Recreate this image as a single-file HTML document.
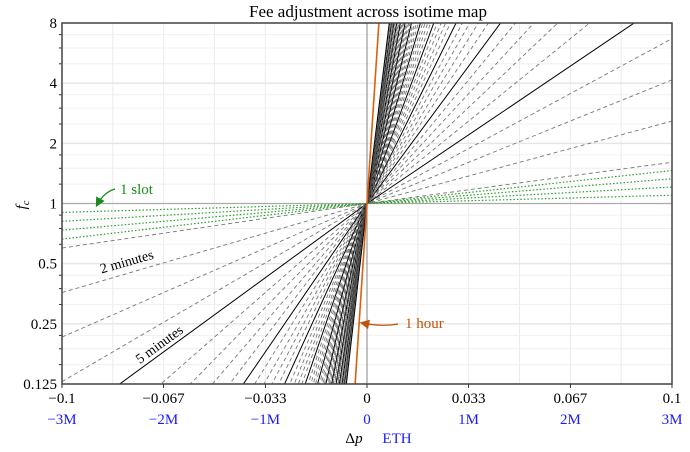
<!DOCTYPE html>
<html><head><meta charset="utf-8"><style>
html,body{margin:0;padding:0;background:#fff;width:690px;height:452px;overflow:hidden;}
svg{display:block;font-family:"Liberation Serif",serif;}
</style></head><body>
<svg id="chart" width="690" height="452" viewBox="0 0 690 452">
<defs><clipPath id="plotclip"><rect x="62" y="23" width="610" height="361"/></clipPath>
<marker id="ag" markerWidth="8" markerHeight="8" refX="6" refY="4" orient="auto"><path d="M0,0 L8,4 L0,8 z" fill="#1a8a1a"/></marker>
<marker id="ao" markerWidth="8" markerHeight="8" refX="6" refY="4" orient="auto"><path d="M0,0 L8,4 L0,8 z" fill="#c0520a"/></marker>
</defs>
<g id="grid"></g>
<g id="lines" clip-path="url(#plotclip)"></g>
<g id="axes"></g>
<text x="368" y="17" text-anchor="middle" font-size="17">Fee adjustment across isotime map</text>
<text x="26" y="205" font-size="15" font-style="italic" text-anchor="middle" transform="rotate(-90 26 205)">f<tspan font-size="10" dy="3">c</tspan></text>
<text x="354" y="443" font-size="15" text-anchor="middle">Δ<tspan font-style="italic">p</tspan></text>
<text x="397" y="443" font-size="15" fill="#1a1aff" text-anchor="middle">ETH</text>
<text x="120" y="194" font-size="15" fill="#1a8a1a">1 slot</text>
<path d="M115,189 Q104,192 97,205" fill="none" stroke="#1a8a1a" stroke-width="1.2" marker-end="url(#ag)"/>
<text x="405" y="328" font-size="15" fill="#c0520a">1 hour</text>
<path d="M398,324 Q382,327 362,323" fill="none" stroke="#c0520a" stroke-width="1.2" marker-end="url(#ao)"/>
<text x="128" y="266" font-size="14" text-anchor="middle" transform="rotate(-16 128 266)">2 minutes</text>
<text x="162" y="348" font-size="14" text-anchor="middle" transform="rotate(-36 162 348)">5 minutes</text>
</svg>
<script>
const xTicks = [-0.1, -0.0667, -0.0333, 0, 0.0333, 0.0667, 0.1];
const xTickLabels = ["−0.1","−0.067","−0.033","0","0.033","0.067","0.1"];
const x2TickLabels = ["−3M","−2M","−1M","0","1M","2M","3M"];
const yTicks = [0.125, 0.25, 0.5, 1, 2, 4, 8];
const yTickLabels = ["0.125","0.25","0.5","1","2","4","8"];
const slotCounts = [1, 2, 3, 4];
const minuteCounts = Array.from({length:60},(_, i)=>i+1);
const upSlopePerMinute = 6.85;
const downSlopePerMinute = 7.4;
const hourSlope = 770;

const X0=62,X1=672,Y0=23,Y1=384;
const xs = v => X0 + (v+0.1)/0.2*(X1-X0);
const ys = f => Y1 - (Math.log2(f)+3)/6*(Y1-Y0);
const NS="http://www.w3.org/2000/svg";
function mk(tag, attrs, parent){const e=document.createElementNS(NS,tag);for(const k in attrs)e.setAttribute(k,attrs[k]);parent.appendChild(e);return e;}
const grid=document.getElementById('grid'), lines=document.getElementById('lines'), axes=document.getElementById('axes');

for(let i=0;i<=12;i++){const v=-0.1+i*0.2/12;const g=mk('line',{x1:xs(v),x2:xs(v),y1:Y0,y2:Y1,stroke:'#ececec','stroke-width':1},grid);

}
for(let o=-3;o<3;o++){for(const m of [1.25,1.5,1.75]){const f=Math.pow(2,o)*m;const g=mk('line',{x1:X0,x2:X1,y1:ys(f),y2:ys(f),stroke:'#f0f0f0','stroke-width':1},grid);


const t=mk('line',{x1:X0-3,x2:X0,y1:ys(f),y2:ys(f),stroke:'#333','stroke-width':1},axes);

}}
yTicks.forEach((f,i)=>{const g=mk('line',{x1:X0,x2:X1,y1:ys(f),y2:ys(f),stroke:f===1?'#aaa':'#e6e6e6','stroke-width':f===1?1.2:1.5},grid);


const t=mk('text',{x:X0-5,y:ys(f)+5,'text-anchor':'end','font-size':15},axes);t.textContent=yTickLabels[i];

});
const zl=mk('line',{x1:xs(0),x2:xs(0),y1:Y0,y2:Y1,stroke:'#999','stroke-width':1.2},grid);



function drawLine(up,down,style,name){
  const p=mk('polyline',{points:`${xs(-0.1)},${ys(Math.pow(2,-0.1*down))} ${xs(0)},${ys(1)} ${xs(0.1)},${ys(Math.pow(2,0.1*up))}`,fill:'none',...style},lines);
  
  
}
slotCounts.forEach(s=>{const m=s*0.2;drawLine(upSlopePerMinute*m,downSlopePerMinute*m,{stroke:'#2a9d2a','stroke-width':1.2,'stroke-dasharray':'1.5,2'},'slot-line');});
minuteCounts.forEach(m=>{const solid=m%5===0;drawLine(upSlopePerMinute*m,downSlopePerMinute*m,solid?{stroke:'#000','stroke-width':1}:{stroke:'#777','stroke-width':0.9,'stroke-dasharray':'4,3'},solid?'five-minute-line':'minute-line');});
drawLine(hourSlope,hourSlope,{stroke:'#e0600a','stroke-width':1.6},'one-hour-line');

const fr=mk('rect',{x:X0,y:Y0,width:X1-X0,height:Y1-Y0,fill:'none',stroke:'#444','stroke-width':1.5},axes);


xTicks.forEach((v,i)=>{
  const t=mk('line',{x1:xs(v),x2:xs(v),y1:Y1,y2:Y1+4,stroke:'#333'},axes);
  
  
  const a=mk('text',{x:xs(v),y:403,'text-anchor':'middle','font-size':15},axes);a.textContent=xTickLabels[i];
  
  
  const b=mk('text',{x:xs(v),y:424,'text-anchor':'middle','font-size':15,fill:'#1a1aff'},axes);b.textContent=x2TickLabels[i];
  
  
});
</script>
</body></html>
